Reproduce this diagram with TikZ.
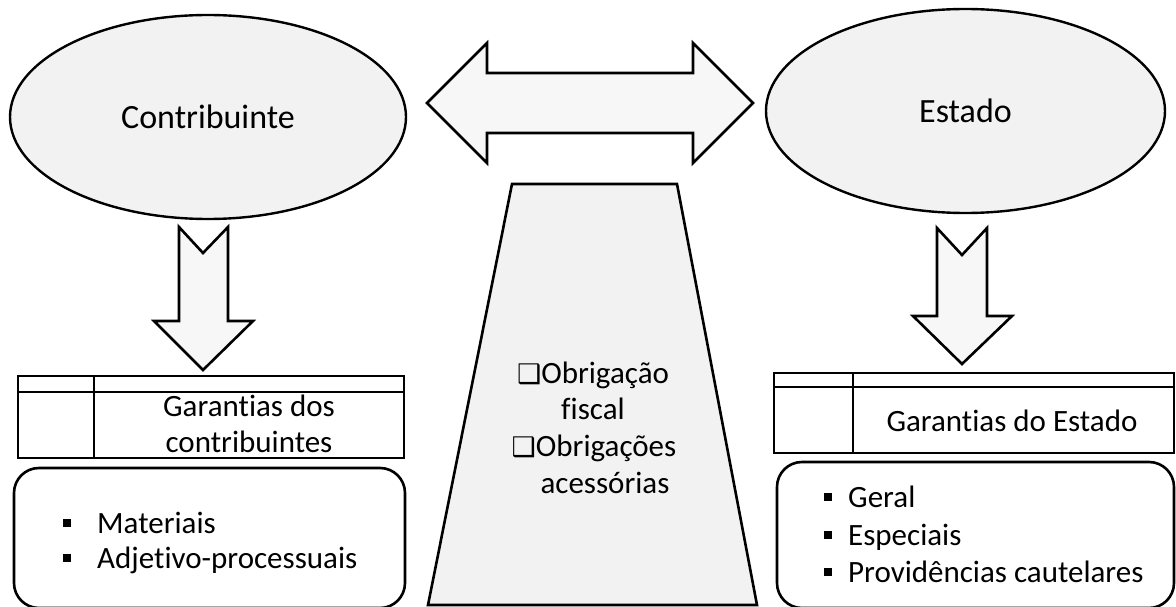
\documentclass[tikz,border=0pt]{standalone}
\usepackage{fontspec}
\setmainfont{Carlito}[Ligatures=NoCommon]
\newfontfamily\symfont{DejaVu Sans}
\usetikzlibrary{shapes.geometric}
\definecolor{ellgray}{HTML}{F2F2F2}
\definecolor{arrgray}{HTML}{F7F7F7}
\newcommand{\sqbul}{\rule[6pt]{8pt}{8pt}}
\newcommand{\boxbul}{{\symfont\fontsize{27}{27}\selectfont ❑}}
\begin{document}
\begin{tikzpicture}[x=1pt,y=-1pt,
    every node/.style={font=\fontsize{31}{36}\selectfont,inner sep=0pt},
    outline/.style={draw,line width=2.6pt,line join=miter},
    party/.style={ellipse,draw,line width=2.4pt,fill=ellgray,minimum width=396pt,minimum height=204pt,
        font=\fontsize{34}{36}\selectfont}]
    \useasboundingbox (0,0) rectangle (1176,607);
    % partes
    \node[party] (contrib) at (208,117) {Contribuinte};
    \node[party,minimum width=399pt] (estado) at (965.5,111) {Estado};
    % seta dupla
    \draw[outline,fill=arrgray] (427,103) -- (487,43) -- (487,73) -- (693,73) -- (693,43) -- (753,103)
        -- (693,163) -- (693,133) -- (487,133) -- (487,163) -- cycle;
    % setas para baixo
    \draw[outline,fill=arrgray] (179,227) -- (203,253) -- (228,227) -- (228,321) -- (253,321) -- (203,370)
        -- (154,321) -- (179,321) -- cycle;
    \draw[outline,fill=arrgray] (937,228) -- (962,255) -- (987,228) -- (987,316) -- (1012,316) -- (962,364)
        -- (913,316) -- (937,316) -- cycle;
    % obrigacoes
    \draw[outline,fill=ellgray] (512,184) -- (677,184) -- (757,605) -- (428,605) -- cycle;
    \node[anchor=base] (obrfisc) at (593,383) {\boxbul Obrigação};
    \node[anchor=base] (fisc) at (593,419) {fiscal};
    \node[anchor=base] (obracc) at (594,456) {\boxbul Obrigações};
    \node[anchor=base] (acess) at (605,493) {acessórias};
    % garantias dos contribuintes
    \draw[outline] (18,376) rectangle (404,458);
    \draw[outline] (18,392) -- (404,392);
    \draw[outline] (94,376) -- (94,458);
    \node[anchor=base] (gcont1) at (249,416) {Garantias dos};
    \node[anchor=base] (gcont2) at (249,452) {contribuintes};
    \draw[outline,rounded corners=25pt] (14,468) rectangle (405,608);
    \node[anchor=base west] (mat) at (63,533) {\sqbul\hspace{26pt}Materiais};
    \node[anchor=base west] (adj) at (63,568) {\sqbul\hspace{26pt}Adjetivo-processuais};
    % garantias do estado
    \draw[outline] (774,373) rectangle (1174,453);
    \draw[outline] (774,387) -- (1174,387);
    \draw[outline] (853,373) -- (853,453);
    \node[anchor=base] (gest) at (1012,431) {Garantias do Estado};
    \draw[outline,rounded corners=25pt] (777,462) rectangle (1174,608);
    \node[anchor=base west] (ger) at (824,507) {\sqbul\hspace{16pt}Geral};
    \node[anchor=base west] (esp) at (824,545) {\sqbul\hspace{16pt}Especiais};
    \node[anchor=base west] (prov) at (824,582) {\sqbul\hspace{16pt}Providências cautelares};
\end{tikzpicture}
\end{document}
